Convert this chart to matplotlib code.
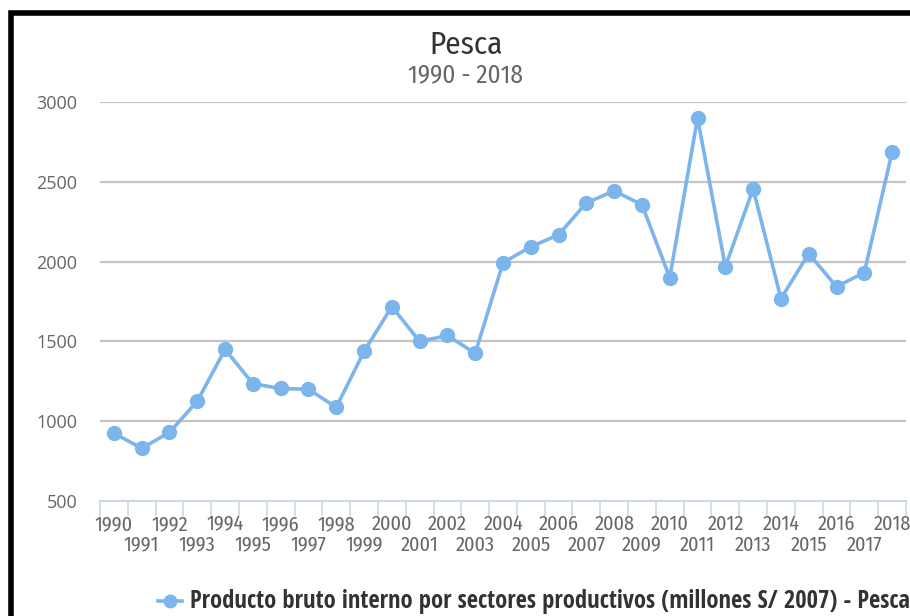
import matplotlib
matplotlib.use("Agg")
import matplotlib.pyplot as plt
from matplotlib import font_manager
from matplotlib.font_manager import FontProperties
from matplotlib.lines import Line2D

years = [str(y) for y in range(1990, 2019)]
pesca = [925, 830, 930, 1125, 1450, 1235, 1205, 1200, 1087, 1437,
         1718, 1500, 1537, 1425, 1993, 2093, 2168, 2368, 2443, 2356,
         1900, 2900, 1968, 2456, 1768, 2050, 1843, 1931, 2687]
y_ticks = [500, 1000, 1500, 2000, 2500, 3000]

LINE = "#7cb5ec"
W, H = 910, 616

# regular-weight condensed face for titles and axis labels
cond = sorted((abs(f.weight - 400) if isinstance(f.weight, int) else 999, f.fname)
              for f in font_manager.fontManager.ttflist
              if f.name.startswith("Open Sans Condensed") and f.style == "normal")
cond = [c for c in cond if c[0] <= 100]
if cond:
    COND = FontProperties(fname=cond[0][1])
else:
    COND = FontProperties(family=["Fira Sans Condensed", "DejaVu Sans"])
BOLD = FontProperties(family=["Open Sans Condensed", "DejaVu Sans"], weight="bold")

fig = plt.figure(figsize=(W / 100, H / 100), dpi=100)
ax = fig.add_axes([100 / W, (H - 501) / H, 806 / W, 399 / H])
renderer = fig.canvas.get_renderer()


def fit(txt, width_px):
    # scale a text so that it spans the given width in pixels
    w = txt.get_window_extent(renderer).width
    txt.set_fontsize(txt.get_fontsize() * width_px / w)
    return txt.get_fontsize()


x = list(range(len(years)))
ax.plot(x, pesca, color=LINE, lw=2.6, marker="o", ms=10, zorder=3, clip_on=False)

ax.set_xlim(-0.5, len(years) - 0.5)
ax.set_ylim(500, 3000)
ax.set_yticks(y_ticks)
ax.set_yticklabels([str(v) for v in y_ticks], fontsize=13, color="#666666",
                   family=["Open Sans", "DejaVu Sans"])
for v in y_ticks[1:]:
    ax.axhline(v, color="#c4c4c4", lw=1.6, zorder=1)
ax.tick_params(axis="y", length=0, pad=16.5)

# category ticks sit between the years
ax.set_xticks([i - 0.5 for i in range(len(years) + 1)])
ax.set_xticklabels([])
ax.tick_params(axis="x", length=11, width=1.2, color="#ccd6eb", direction="out")
labels = []
for i, yr in enumerate(years):
    t = ax.text(i, -0.058 if i % 2 == 0 else -0.11, yr, transform=ax.get_xaxis_transform(),
                ha="center", va="center", fontproperties=COND, color="#666666",
                clip_on=False)
    t.set_fontsize(12)
    labels.append(t)
year_size = fit(labels[0], 38)
for t in labels:
    t.set_fontsize(year_size)

for s in ["top", "right", "left"]:
    ax.spines[s].set_visible(False)
ax.spines["bottom"].set_color("#ccd6eb")
ax.spines["bottom"].set_linewidth(1.5)

title = fig.text(466 / W, 1 - 45 / H, "Pesca", ha="center", va="center",
                 fontproperties=COND, color="#333333")
title.set_fontsize(17)
fit(title, 73)
sub = fig.text(466 / W, 1 - 75 / H, "1990 - 2018", ha="center", va="center",
               fontproperties=COND, color="#666666")
sub.set_fontsize(12)
fit(sub, 115)

# legend entry
fig.add_artist(Line2D([158 / W, 182 / W], [1 - 601 / H] * 2, color=LINE, lw=2.6))
fig.add_artist(Line2D([170 / W], [1 - 601 / H], color=LINE, marker="o", ms=9, lw=0))
leg = fig.text(190 / W, 1 - 601 / H,
               "Producto bruto interno por sectores productivos (millones S/ 2007) - Pesca",
               ha="left", va="center", fontproperties=BOLD, color="#333333")
leg.set_fontsize(12.5)
fit(leg, 722)

# outer frame
fig.add_artist(Line2D([10.5 / W, 10.5 / W, 1.0], [0, 1 - 12.5 / H, 1 - 12.5 / H],
                      color="black", lw=4, solid_joinstyle="miter"))

fig.savefig("out.png", dpi=100)
